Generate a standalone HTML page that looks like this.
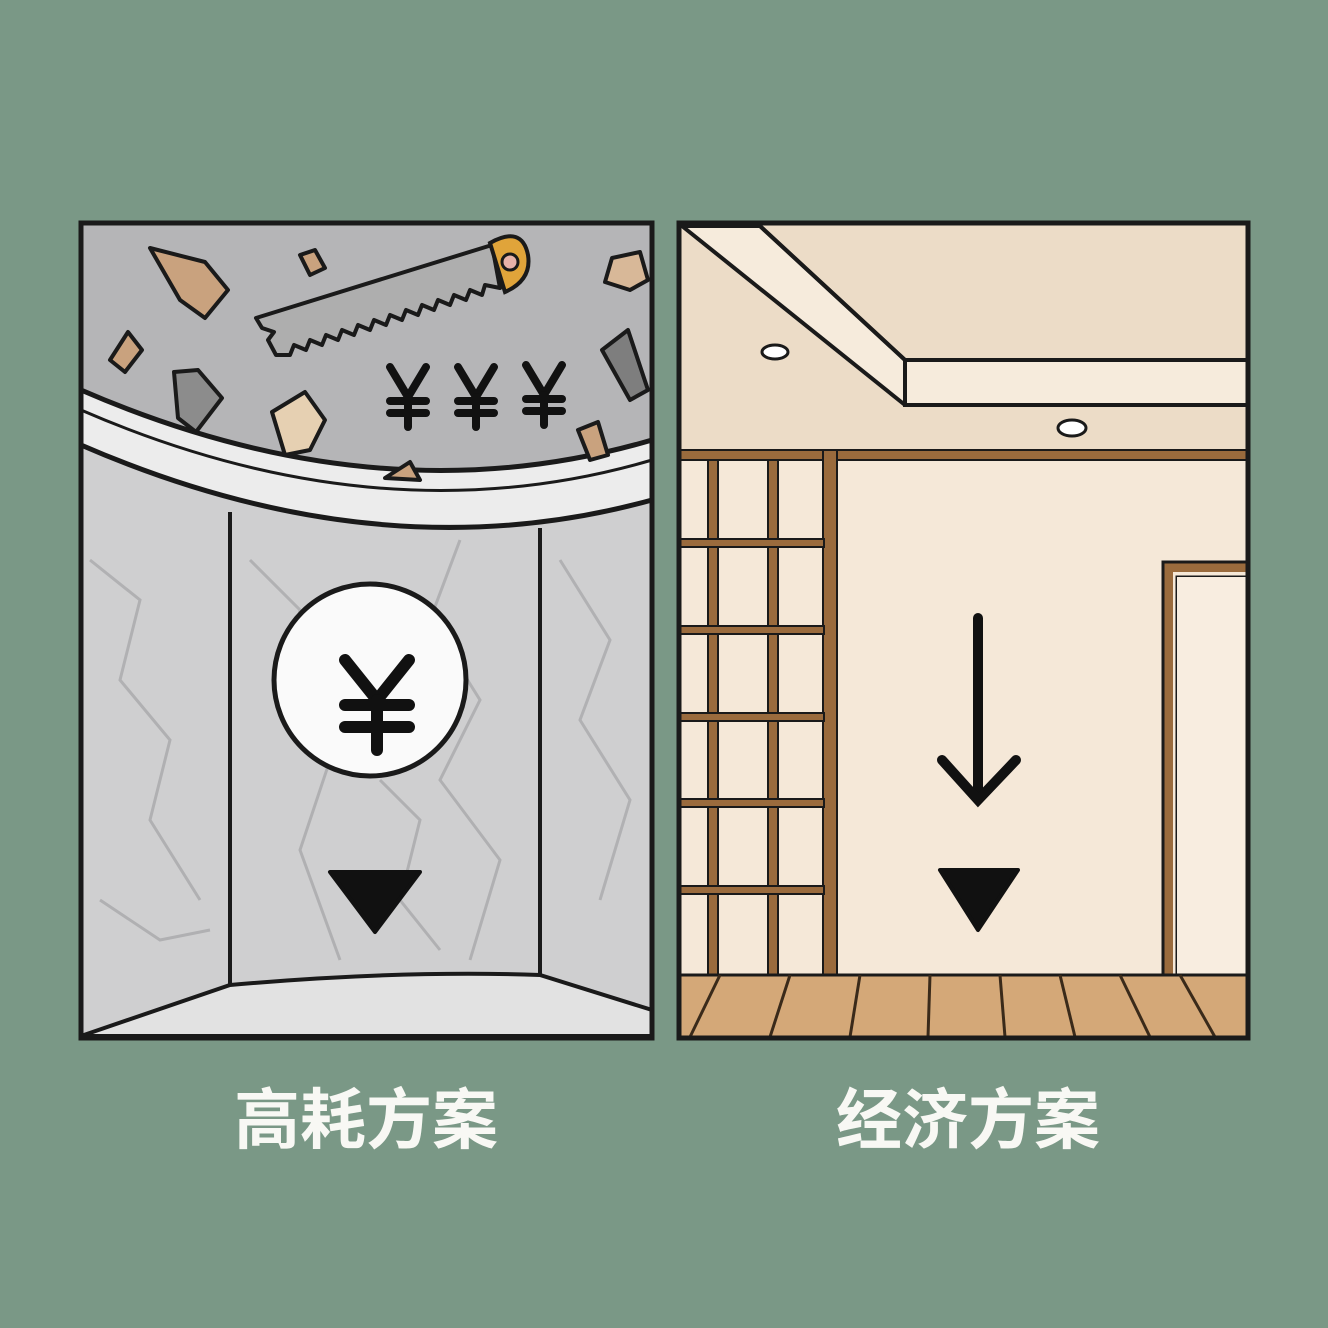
<!DOCTYPE html>
<html><head><meta charset="utf-8"><style>
html,body{margin:0;padding:0;background:#7a9886;}
svg{display:block}
text{font-family:"Liberation Sans","Noto Sans CJK SC",sans-serif;}
</style></head><body>
<svg width="1328" height="1328" viewBox="0 0 1328 1328" xmlns="http://www.w3.org/2000/svg">
<defs>
<g id="yen" stroke="#111" stroke-width="8" stroke-linecap="round" fill="none">
<path d="M-18 -28 L0 2 L18 -28"/><line x1="0" y1="2" x2="0" y2="32"/>
<line x1="-18" y1="6" x2="18" y2="6"/><line x1="-18" y1="18" x2="18" y2="18"/>
</g>
</defs>
<rect width="1328" height="1328" fill="#7a9886"/>
<!-- LEFT PANEL -->
<rect x="81" y="223" width="571" height="815" fill="#cfcfd0"/>
<path d="M81 223 H652 V440 Q380 520 81 390 Z" fill="#b5b5b7"/>
<g stroke="#a9a9ab" stroke-width="3" fill="none" opacity="0.8">
<path d="M90 560 L140 600 L120 680 L170 740 L150 820 L200 900"/>
<path d="M250 560 L300 610 L280 700 L330 760 L300 850 L340 960"/>
<path d="M460 540 L430 620 L480 700 L440 780 L500 860 L470 960"/>
<path d="M560 560 L610 640 L580 720 L630 800 L600 900"/>
<path d="M100 900 L160 940 L210 930"/>
<path d="M380 780 L420 820 L400 900 L440 950"/>
</g>
<path d="M81 390 Q380 520 652 440 L652 500 Q380 575 81 445 Z" fill="#ececec" stroke="#1a1a1a" stroke-width="5"/>
<path d="M81 410 Q380 540 652 460" fill="none" stroke="#1a1a1a" stroke-width="3"/>
<line x1="230" y1="512" x2="230" y2="985" stroke="#1a1a1a" stroke-width="4"/>
<line x1="540" y1="528" x2="540" y2="975" stroke="#1a1a1a" stroke-width="4"/>
<path d="M81 1036 L230 985 Q400 970 540 975 L652 1010 L652 1036 Z" fill="#e2e2e2" stroke="#1a1a1a" stroke-width="4"/>
<g stroke="#1a1a1a" stroke-width="4" stroke-linejoin="round">
<path d="M150 248 L205 262 L228 290 L205 318 L180 300 Z" fill="#c9a27e"/>
<path d="M300 255 L315 250 L325 268 L310 275 Z" fill="#c9a27e"/>
<path d="M612 258 L640 252 L648 280 L630 290 L605 282 Z" fill="#d8b898"/>
<path d="M110 360 L128 332 L142 350 L125 372 Z" fill="#c9a27e"/>
<path d="M174 372 L198 370 L222 398 L196 432 L178 418 Z" fill="#8c8c8c"/>
<path d="M272 412 L305 392 L325 420 L310 450 L285 455 Z" fill="#e6d0b2"/>
<path d="M602 350 L628 330 L648 390 L630 400 Z" fill="#7e7e7e"/>
<path d="M578 430 L598 422 L608 455 L590 460 Z" fill="#c9a27e"/>
<path d="M385 478 L410 462 L420 480 Z" fill="#c9a27e"/>
</g>
<!-- saw -->
<path d="M256 318 L492 245 L500 288 L485 285 L482 295 L470 290 L466 300 L454 295 L450 305 L438 300 L434 310 L422 305 L418 315 L406 310 L402 320 L390 315 L386 325 L374 320 L370 330 L358 325 L354 335 L342 330 L338 340 L326 335 L322 345 L310 340 L306 350 L294 345 L290 355 L276 355 L268 340 L274 332 L262 328 Z" fill="#aeaeae" stroke="#1a1a1a" stroke-width="4" stroke-linejoin="round"/>
<path d="M490 243 Q522 225 528 255 Q532 280 505 292 Z" fill="#e0a43a" stroke="#1a1a1a" stroke-width="4"/>
<circle cx="510" cy="262" r="8" fill="#e8b2a8" stroke="#1a1a1a" stroke-width="3"/>
<use href="#yen" x="408" y="395"/>
<use href="#yen" x="476" y="395"/>
<use href="#yen" x="544" y="393"/>
<circle cx="370" cy="680" r="96" fill="#fafafa" stroke="#1a1a1a" stroke-width="5"/>
<g stroke="#111" stroke-width="12" stroke-linecap="round" fill="none">
<path d="M345 660 L377 700 L409 660"/>
<line x1="377" y1="700" x2="377" y2="750"/>
<line x1="345" y1="705" x2="409" y2="705"/>
<line x1="345" y1="727" x2="409" y2="727"/>
</g>
<path d="M330 872 L420 872 L375 932 Z" fill="#111" stroke="#111" stroke-width="4" stroke-linejoin="round"/>
<rect x="81" y="223" width="571" height="815" fill="none" stroke="#1a1a1a" stroke-width="5"/>

<!-- RIGHT PANEL -->
<rect x="679" y="223" width="569" height="815" fill="#f5e8d8"/>
<rect x="679" y="223" width="569" height="230" fill="#ecdcc7"/>
<path d="M682 226 L760 226 L905 360 L905 405 Z" fill="#f6ebdc" stroke="#1a1a1a" stroke-width="4" stroke-linejoin="round"/>
<path d="M905 360 H1248 V405 H905 Z" fill="#f6ebdc" stroke="#1a1a1a" stroke-width="4"/>
<line x1="760" y1="226" x2="905" y2="360" stroke="#1a1a1a" stroke-width="4"/>
<ellipse cx="775" cy="352" rx="13" ry="7" fill="#fff" stroke="#1a1a1a" stroke-width="3"/>
<ellipse cx="1072" cy="428" rx="14" ry="8" fill="#fff" stroke="#1a1a1a" stroke-width="3"/>
<rect x="679" y="450" width="569" height="10" fill="#9a6b3d" stroke="#1a1a1a" stroke-width="2"/>
<g fill="#9a6b3d" stroke="#1a1a1a" stroke-width="2">
<rect x="708" y="460" width="10" height="515"/>
<rect x="768" y="460" width="10" height="515"/>
<rect x="823" y="450" width="14" height="525"/>
<rect x="679" y="539" width="145" height="8"/>
<rect x="679" y="626" width="145" height="8"/>
<rect x="679" y="713" width="145" height="8"/>
<rect x="679" y="799" width="145" height="8"/>
<rect x="679" y="886" width="145" height="8"/>
</g>
<path d="M1168 975 V567 H1248" fill="none" stroke="#9a6b3d" stroke-width="10"/>
<path d="M1163 975 V562 H1248 M1177 975 V577 H1248" fill="none" stroke="#1a1a1a" stroke-width="3"/>
<rect x="1177" y="577" width="71" height="398" fill="#f8ede0"/>
<rect x="679" y="975" width="569" height="62" fill="#d4a878" stroke="#1a1a1a" stroke-width="3"/>
<g stroke="#3a2a1a" stroke-width="3">
<line x1="720" y1="975" x2="690" y2="1037"/><line x1="790" y1="975" x2="770" y2="1037"/>
<line x1="860" y1="975" x2="850" y2="1037"/><line x1="930" y1="975" x2="928" y2="1037"/>
<line x1="1000" y1="975" x2="1005" y2="1037"/><line x1="1060" y1="975" x2="1075" y2="1037"/>
<line x1="1120" y1="975" x2="1150" y2="1037"/><line x1="1180" y1="975" x2="1215" y2="1037"/>
</g>
<g stroke="#111" stroke-width="10" stroke-linecap="round" fill="none">
<line x1="978" y1="618" x2="978" y2="798"/>
<path d="M942 760 L978 800 L1016 760"/>
</g>
<path d="M940 870 L1018 870 L978 930 Z" fill="#111" stroke="#111" stroke-width="4" stroke-linejoin="round"/>
<rect x="679" y="223" width="569" height="815" fill="none" stroke="#1a1a1a" stroke-width="5"/>

<text x="366" y="1143" font-size="66" font-weight="bold" fill="#f8f8f4" text-anchor="middle">高耗方案</text>
<text x="968" y="1143" font-size="66" font-weight="bold" fill="#f8f8f4" text-anchor="middle">经济方案</text>
</svg>
</body></html>
